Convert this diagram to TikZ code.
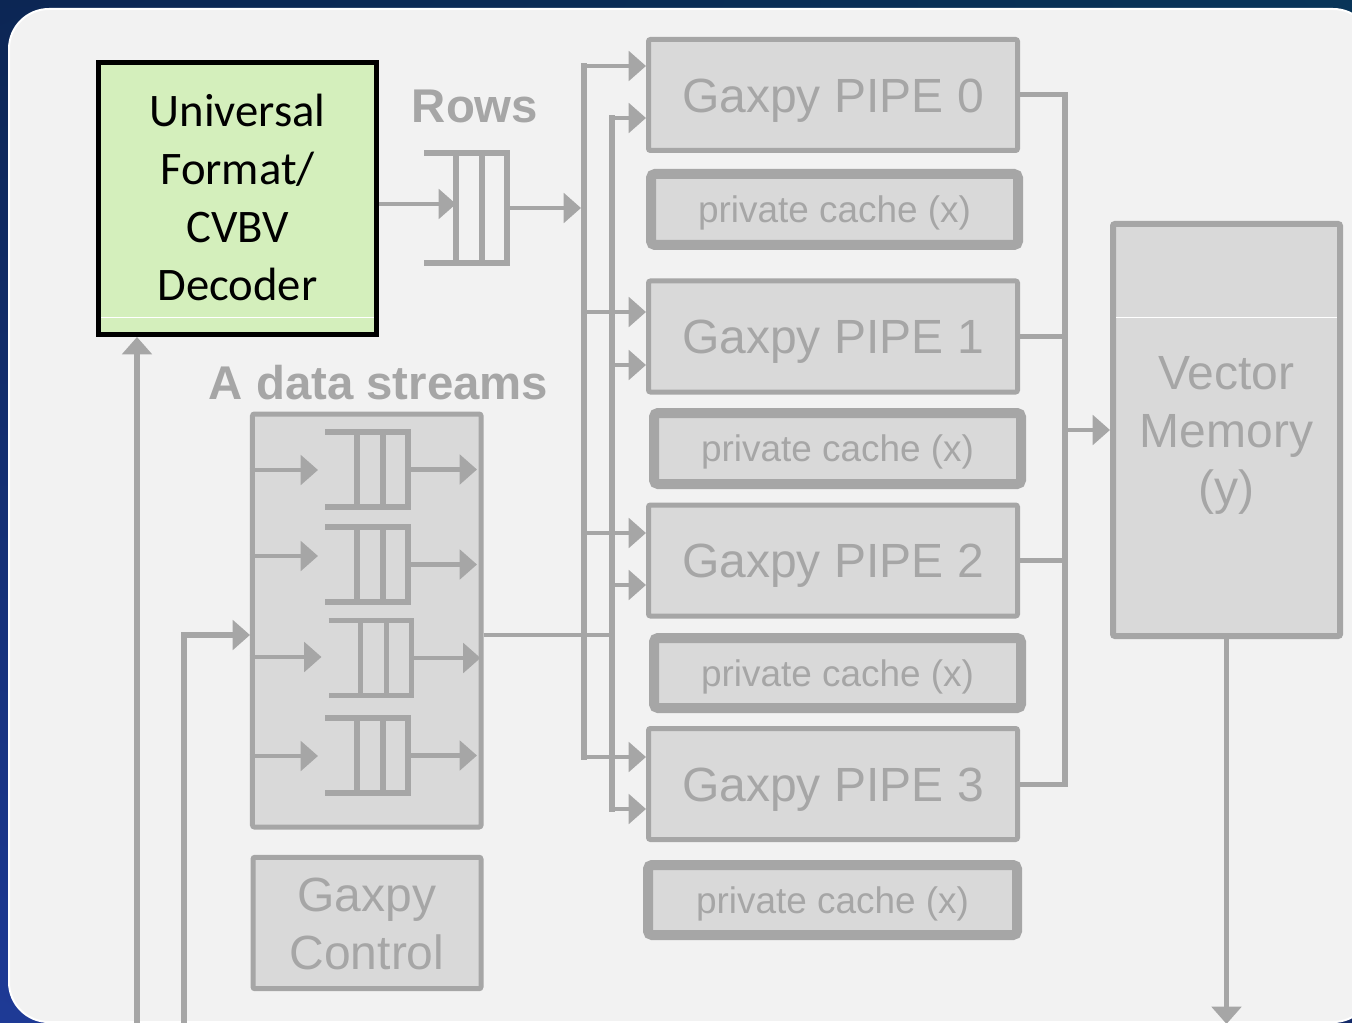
\documentclass[tikz,border=0pt]{standalone}
\usepackage{fontspec}
\setmainfont{Liberation Sans}
\newfontfamily\carlito{Carlito}
\usetikzlibrary{arrows.meta,calc,shadings}
\definecolor{linegray}{HTML}{A6A6A6}
\definecolor{boxgray}{HTML}{D9D9D9}
\definecolor{panelgray}{HTML}{F2F2F2}
\definecolor{decgreen}{RGB}{212,239,188}
\definecolor{bgUL}{RGB}{12,38,84}
\definecolor{bgUR}{RGB}{8,52,88}
\definecolor{bgLL}{RGB}{30,58,150}
\definecolor{bgLR}{RGB}{20,42,104}

% three-slot FIFO drawn inside a named (invisible) node
\newcommand\queuelines[1]{%
  \draw[qline] (#1.north west) -- (#1.north east) -- (#1.south east) -- (#1.south west);
  \draw[qline] ($(#1.north west)+(32,0)$) -- ($(#1.south west)+(32,0)$);
  \draw[qline] ($(#1.north west)+(58,0)$) -- ($(#1.south west)+(58,0)$);
}

\begin{document}
\begin{tikzpicture}[x=0.75pt,y=-0.75pt,
  >={Triangle[length=13pt,width=22pt]},
  conn/.style={draw=linegray,line width=3.4pt},
  arr/.style={conn,->},
  busline/.style={draw=linegray,line width=4.5pt,line cap=rect},
  qline/.style={draw=linegray,line width=4.3pt,line join=miter},
  queue/.style={inner sep=0pt,outer sep=0pt,minimum width=62.25pt},
  graybox/.style={draw=linegray,fill=boxgray,text=linegray,inner sep=0pt,align=center},
  pipebox/.style={graybox,line width=3.75pt,rounded corners=1.5pt,
    minimum width=276.75pt,minimum height=83.25pt,
    font=\fontsize{36}{43}\selectfont,text height=25.8pt,text depth=0pt},
  cachebox/.style={graybox,line width=7.5pt,rounded corners=3pt,
    minimum width=275.25pt,minimum height=53.25pt,
    font=\fontsize{27.7}{33}\selectfont,text height=19.8pt,text depth=0pt},
  bigbox/.style={graybox,line width=3.75pt,rounded corners=1.5pt,
    font=\fontsize{36}{43.3}\selectfont,text depth=0pt},
  label/.style={text=linegray,inner sep=0pt,
    font=\bfseries\fontsize{35.5}{40}\selectfont,text height=25.4pt,text depth=0pt}
]
\useasboundingbox (0,0) rectangle (1352,1023);
\clip (0,0) rectangle (1352,1023);

% backdrop and slide panel
\shade[upper left=bgUL,upper right=bgUR,lower left=bgLL,lower right=bgLR]
  (0,0) rectangle (1352,1023);
\draw[white,line width=1.5pt,fill=panelgray,rounded corners=30pt]
  (9,9) rectangle (1373,1022);

% decoder
\node[draw=black,fill=decgreen,line width=3.75pt,inner sep=0pt,
  minimum width=208.5pt,minimum height=204pt,align=center,
  font=\carlito\fontsize{35}{43.3}\selectfont,text height=152.4pt,text depth=0pt]
  (dec) at (237.5,198.5) {Universal\\Format/\\CVBV\\Decoder};
\draw[white,line width=0.6pt] ($(dec.south west)+(5,-20)$) -- ($(dec.south east)+(-5,-20)$);

% row queue
\node[label] (rowslbl) at (475,105.5) {Rows};
\node[queue,minimum height=82.5pt] (rq) at (465.5,208) {};
\queuelines{rq}

% A data streams
\node[label] (albl) at (378.5,382.5) {A data streams};
\node[bigbox,minimum width=171.4pt,minimum height=309.75pt] (abox) at (366.75,620.5) {};
\node[queue,minimum height=56.25pt] (q1) at (366.5,469.5) {};
\node[queue,minimum height=56.25pt] (q2) at (366.5,564.5) {};
\node[queue,minimum height=56.25pt] (q3) at (370,658) {};
\node[queue,minimum height=56.25pt] (q4) at (366.5,755.5) {};
\foreach \q in {q1,q2,q3,q4}{\queuelines{\q}}

% control
\node[bigbox,minimum width=171pt,minimum height=98.6pt,text height=69.1pt] (ctrl) at (367,923) {Gaxpy\\Control};

% pipes and caches
\node[pipebox] (p0) at (833,95) {Gaxpy PIPE 0};
\node[pipebox] (p1) at (833,336.5) {Gaxpy PIPE 1};
\node[pipebox] (p2) at (833,560.5) {Gaxpy PIPE 2};
\node[pipebox] (p3) at (833,784) {Gaxpy PIPE 3};
\node[cachebox] (c0) at (834.5,209.5) {private cache (x)};
\node[cachebox] (c1) at (837.5,448.5) {private cache (x)};
\node[cachebox,minimum height=52.5pt] (c2) at (837.5,673) {private cache (x)};
\node[cachebox,minimum height=52.5pt,minimum width=276.75pt] (c3) at (832.5,900) {private cache (x)};

% vector memory
\node[bigbox,line width=4.5pt,minimum width=170.25pt,minimum height=309pt,text height=112.4pt] (vm) at (1226.5,430) {Vector\\Memory\\(y)};
\draw[white,line width=0.6pt] ($(vm.north west)+(6,96)$) -- ($(vm.north east)+(-6,96)$);

% decoder -> row queue -> distribution bus
\draw[arr] ($(dec.east)+(0,5.5)$) -- ($(rq.west)+(32,-4)$);
\coordinate (lbtop) at (583.5,66);
\coordinate (lbbot) at (583.5,757);
\coordinate (rbtop) at (612,118);
\coordinate (rbbot) at (612,809);
\draw[arr] (rq.east) -- ($(rq.east -| lbtop)+(-2.5,0)$);

% two distribution buses
\draw[busline] (lbtop) -- (lbbot);
\draw[busline] (rbtop) -- (rbbot);
\coordinate (l1) at (583.5,312);
\coordinate (l2) at (583.5,533);
\coordinate (r1) at (612,365);
\coordinate (r2) at (612,585);
\foreach \c/\p in {lbtop/p0,l1/p1,l2/p2,lbbot/p3,rbtop/p0,r1/p1,r2/p2,rbbot/p3}{
  \draw[arr] (\c) -- (\p.west |- \c);
}

% A data streams queues
\foreach \q/\dy in {q1/0.5,q2/-8.5,q3/-1,q4/0.5}{
  \draw[arr] ($(abox.west |- \q.west)+(0,\dy)$) -- ($(\q.west)+(-7,\dy)$);
  \draw[arr] (\q.east) -- ($(\q.east)+(69,0)$);
}
\coordinate (amid) at (612,635);
\draw[conn] (abox.east |- amid) -- (amid);

% inputs from below
\coordinate (in1) at (137,1030);
\draw[arr,line width=4pt] (in1) -- (in1 |- dec.south);
\coordinate (in2) at (184,1030);
\coordinate (in2b) at (184,635);
\draw[arr,line width=4pt] (in2) -- (in2b) -- (abox.west |- in2b);

% collection bus into vector memory
\coordinate (cx) at (1065,0);
\draw[busline] (cx |- p0.east) -- (cx |- p3.east);
\foreach \p in {p0,p1,p2,p3}{\draw[conn,line width=3.75pt] (\p.east) -- (cx |- \p.east);}
\draw[arr] (cx |- vm.west) -- (vm.west);

% vector memory output
\coordinate (vmout) at (1226.5,1024);
\draw[arr] (vm.south) -- (vm.south |- vmout);
\end{tikzpicture}
\end{document}
